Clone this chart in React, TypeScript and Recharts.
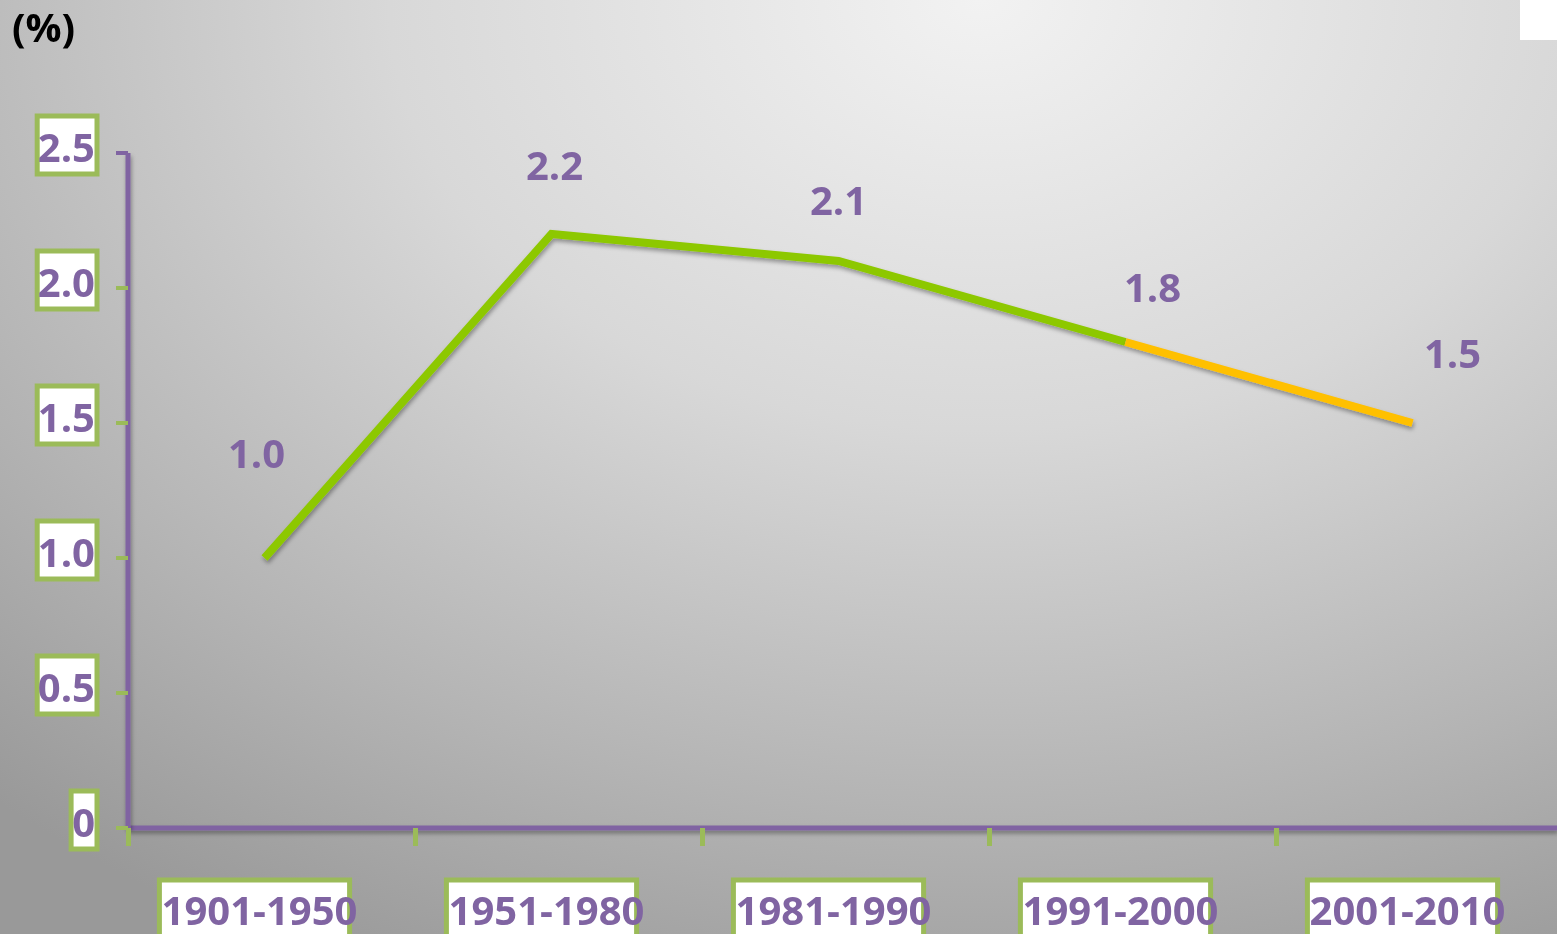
import { LineChart, Line, XAxis, YAxis, LabelList } from "recharts";

const categories = ["1901-1950", "1951-1980", "1981-1990", "1991-2000", "2001-2010"];
const values = [1.0, 2.2, 2.1, 1.8, 1.5];
const valueLabels = ["1.0", "2.2", "2.1", "1.8", "1.5"];
const yTicks = [0, 0.5, 1, 1.5, 2, 2.5];
const yTickLabels = ["0", "0.5", "1.0", "1.5", "2.0", "2.5"];
// the last segment (from this index on) is drawn in yellow
const highlightFrom = 3;

// label nudges (dx, dy from the point)
const labelDx = [-8, 3, 0, 27, 40];
const labelDy = [-90, -54, -46, -40, -55];

const PURPLE = "#8064a2";
const BOX_GREEN = "#9bbb59";
const LINE_GREEN = "#8dc800";
const LINE_YELLOW = "#ffc000";
const FONT = "'Open Sans', sans-serif";

const data = categories.map((c, i) => ({
  name: c,
  all: values[i],
  green: i <= highlightFrom ? values[i] : null,
  yellow: i >= highlightFrom ? values[i] : null,
}));

// rough Open Sans Bold width at 40px
function textWidth(s: string) {
  let w = 0;
  for (const ch of s) {
    if (ch === ".") w += 11;
    else if (ch === "-") w += 13;
    else w += 22.9;
  }
  return w;
}

function XTick(props: any) {
  const { x, y, payload } = props;
  const label = String(payload.value);
  const tw = textWidth(label);
  const cx = x - 5;
  return (
    <g>
      <line x1={x - 136} x2={x - 136} y1={y} y2={y + 18} stroke={BOX_GREEN} strokeWidth={5} />
      <rect x={cx - tw / 2 - 2} y={y + 52} width={tw - 6} height={70} fill="#fff" stroke={BOX_GREEN} strokeWidth={5} />
      <text x={cx} y={y + 97} textAnchor="middle" fill={PURPLE} fontFamily={FONT} fontWeight={700} fontSize={40}>
        {label}
      </text>
    </g>
  );
}

function YTick(props: any) {
  const { x, y, payload, index } = props;
  const label = yTickLabels[index] ?? String(payload.value);
  const tw = textWidth(label);
  const right = x - 31;
  const isTop = payload.value === yTicks[yTicks.length - 1];
  return (
    <g>
      <line x1={x - 12} x2={x} y1={y} y2={y} stroke={isTop ? PURPLE : BOX_GREEN} strokeWidth={4} />
      <rect x={right - tw - 3} y={y - 37} width={tw + 3} height={58} fill="#fff" stroke={BOX_GREEN} strokeWidth={5} />
      <text x={right - 2} y={y + 9} textAnchor="end" fill={PURPLE} fontFamily={FONT} fontWeight={700} fontSize={40}>
        {label}
      </text>
    </g>
  );
}

function ValueLabel(props: any) {
  const { x, y, index } = props;
  if (x == null || y == null) return null;
  return (
    <text
      x={x + labelDx[index]}
      y={y + labelDy[index]}
      textAnchor="middle"
      fill={PURPLE}
      fontFamily={FONT}
      fontWeight={700}
      fontSize={40}
    >
      {valueLabels[index]}
    </text>
  );
}

export default function App() {
  return (
    <div
      style={{
        position: "fixed",
        left: 0,
        top: 0,
        width: 1557,
        height: 934,
        overflow: "hidden",
        background:
          "radial-gradient(ellipse 95% 115% at 63% 0%, #f2f2f2 0%, #d8d8d8 40%, #b4b4b4 75%, #999999 100%)",
      }}
    >
      <svg width={0} height={0} style={{ position: "absolute" }}>
        <defs>
          <filter id="shadow" filterUnits="userSpaceOnUse" x={0} y={0} width={1557} height={934}>
            <feDropShadow dx={1} dy={3} stdDeviation={2} floodColor="#000" floodOpacity={0.35} />
          </filter>
        </defs>
      </svg>
      <div
        style={{
          position: "absolute",
          left: 12,
          top: 0,
          fontFamily: FONT,
          fontWeight: 700,
          fontSize: 40,
          color: "#000",
          lineHeight: "54px",
        }}
      >
        (%)
      </div>
      <div style={{ position: "absolute", left: 1520, top: 0, width: 37, height: 40, background: "#fff" }} />
      <div style={{ position: "absolute", left: 0, top: 0 }}>
        <LineChart width={1557} height={934} data={data} margin={{ top: 153, right: 0, bottom: 0, left: 0 }}>
          <XAxis
            dataKey="name"
            height={106}
            padding={{ left: 136.5, right: 144.5 }}
            tickSize={0}
            tickMargin={0}
            tickLine={false}
            axisLine={{ stroke: PURPLE, strokeWidth: 5, filter: "url(#shadow)" }}
            tick={<XTick />}
            interval={0}
          />
          <YAxis
            width={128}
            domain={[0, 2.5]}
            ticks={yTicks}
            tickSize={0}
            tickMargin={0}
            tickLine={false}
            axisLine={{ stroke: PURPLE, strokeWidth: 5, filter: "url(#shadow)" }}
            tick={<YTick />}
            interval={0}
          />
          <Line
            dataKey="green"
            stroke={LINE_GREEN}
            strokeWidth={8}
            dot={false}
            activeDot={false}
            isAnimationActive={false}
            style={{ filter: "url(#shadow)" }}
          />
          <Line
            dataKey="yellow"
            stroke={LINE_YELLOW}
            strokeWidth={8}
            dot={false}
            activeDot={false}
            isAnimationActive={false}
            style={{ filter: "url(#shadow)" }}
          />
          <Line dataKey="all" stroke="none" dot={false} activeDot={false} isAnimationActive={false}>
            <LabelList dataKey="all" content={<ValueLabel />} />
          </Line>
        </LineChart>
      </div>
    </div>
  );
}
